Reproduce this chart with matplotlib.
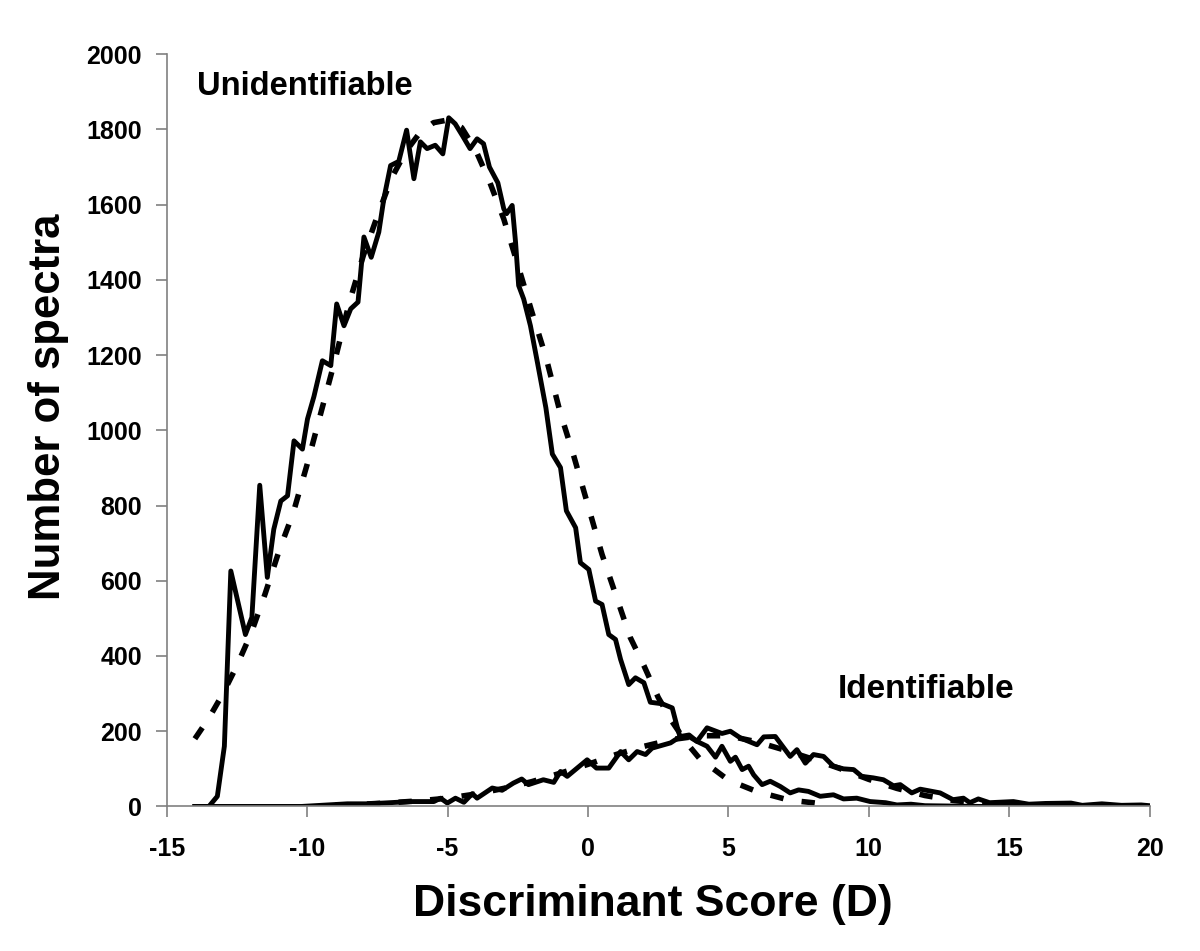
import matplotlib
matplotlib.use('Agg')
import matplotlib.pyplot as plt

plt.rcParams['font.family'] = ['Liberation Sans', 'DejaVu Sans']
plt.rcParams['font.weight'] = 'bold'
plt.rcParams['axes.unicode_minus'] = False

unid_x = [-14.0, -13.5, -13.2, -12.95, -12.72, -12.2, -11.97, -11.69, -11.42, -11.19,
          -10.94, -10.7, -10.47, -10.17, -9.99, -9.76, -9.46, -9.16, -8.95, -8.69,
          -8.45, -8.19, -7.98, -7.72, -7.45, -7.27, -7.03, -6.74, -6.46, -6.2,
          -5.97, -5.73, -5.44, -5.17, -4.96, -4.73, -4.46, -4.2, -3.95, -3.72,
          -3.51, -3.21, -3.0, -2.9, -2.7, -2.58, -2.47, -2.29, -2.05, -1.8,
          -1.5, -1.27, -0.98, -0.77, -0.44, -0.27, 0.03, 0.27, 0.5, 0.74,
          0.98, 1.16, 1.45, 1.69, 1.99, 2.22, 2.64, 3.0, 3.17, 3.29,
          3.59, 3.88, 4.24, 4.54, 4.77, 5.07, 5.25, 5.49, 5.72, 5.9,
          6.2, 6.49, 6.85, 7.2, 7.5, 7.85, 8.27, 8.74, 9.1, 9.57,
          10.05, 10.6, 11.0, 11.5, 12.0, 13.0, 14.0, 20.0]
unid_y = [0, 0, 27, 160, 626, 457, 503, 854, 609, 737,
          812, 826, 972, 950, 1030, 1090, 1185, 1172, 1336, 1278,
          1323, 1341, 1514, 1460, 1527, 1616, 1704, 1715, 1798, 1669,
          1767, 1749, 1758, 1735, 1831, 1815, 1782, 1749, 1775, 1762,
          1700, 1658, 1589, 1576, 1598, 1500, 1385, 1349, 1278, 1180,
          1060, 937, 901, 786, 741, 648, 630, 546, 537, 457,
          444, 391, 324, 342, 329, 277, 273, 262, 213, 182,
          186, 173, 160, 131, 160, 120, 131, 98, 107, 84,
          58, 67, 53, 36, 44, 40, 27, 31, 20, 22,
          13, 10, 4, 6, 2, 1, 0, 0]

# Unidentifiable spectra, fitted curve
unid_fit_x = [-14.0, -13.5, -13.0, -12.5, -12.0, -11.5, -11.0, -10.5, -10.0, -9.5,
              -9.0, -8.5, -8.0, -7.5, -7.0, -6.5, -6.0, -5.5, -5.0, -4.5,
              -4.0, -3.5, -3.0, -2.5, -2.0, -1.5, -1.0, -0.5, 0.0, 0.5,
              1.0, 1.5, 2.0, 2.5, 3.0, 3.5, 4.0, 4.5, 5.0, 5.5,
              6.0, 6.5, 7.0, 7.5, 8.0, 8.5]
unid_fit_y = [180, 235, 300, 375, 460, 565, 680, 780, 910, 1050,
              1190, 1340, 1465, 1570, 1670, 1740, 1790, 1818, 1825, 1805,
              1745, 1660, 1562, 1440, 1315, 1195, 1050, 930, 800, 670,
              560, 450, 373, 290, 225, 170, 125, 98, 70, 55,
              40, 30, 20, 14, 10, 5]

# Identifiable spectra, observed counts
ident_x = [-14.0, -10.2, -8.57, -7.86, -7.3, -6.32, -5.49, -5.25, -5.01, -4.72,
           -4.42, -4.12, -3.95, -3.41, -3.06, -2.66, -2.36, -2.12, -1.59, -1.22,
           -0.98, -0.74, -0.03, 0.3, 0.74, 1.16, 1.45, 1.75, 2.05, 2.28,
           2.94, 3.29, 3.6, 3.88, 4.24, 4.77, 5.07, 5.43, 6.02, 6.26,
           6.67, 7.2, 7.44, 7.74, 8.03, 8.39, 8.74, 9.1, 9.46, 9.75,
           10.16, 10.52, 10.88, 11.12, 11.53, 11.83, 12.54, 13.0, 13.37, 13.6,
           13.9, 14.3, 15.15, 15.7, 16.3, 17.2, 17.6, 18.3, 19.0, 19.7, 20.0]
ident_y = [0, 0, 7, 7, 9, 13, 13, 22, 9, 22,
           11, 34, 22, 49, 43, 62, 73, 58, 71, 64,
           93, 80, 124, 102, 102, 146, 124, 146, 138, 155,
           169, 186, 190, 173, 209, 194, 200, 182, 164, 185,
           186, 133, 151, 115, 138, 133, 107, 100, 98, 80,
           76, 71, 55, 58, 36, 46, 36, 18, 22, 10,
           20, 10, 13, 6, 8, 9, 3, 7, 3, 4, 2]

# Identifiable spectra, fitted curve
ident_fit_x = [-9, -8, -7, -6, -5, -4, -3, -2, -1, 0,
               1, 2, 3, 4, 5, 6, 7, 8, 9, 10,
               11, 12, 13, 14, 15, 16, 17]
ident_fit_y = [3, 6, 10, 15, 22, 33, 48, 66, 88, 112,
               138, 160, 178, 188, 188, 172, 150, 126, 100, 72,
               48, 29, 16, 8, 4, 2, 1]

fig = plt.figure(figsize=(12, 9.51), dpi=100)
ax = fig.add_axes([0.139, 0.152, 0.819, 0.791])

dash = (0, (2.4, 3.3))
ax.plot(unid_fit_x, unid_fit_y, color='black', lw=4, linestyle=dash, dash_capstyle='butt')
ax.plot(ident_fit_x, ident_fit_y, color='black', lw=4, linestyle=dash, dash_capstyle='butt')
ax.plot(unid_x, unid_y, color='black', lw=3.5)
ax.plot(ident_x, ident_y, color='black', lw=3.5)

ax.set_xlim(-15, 20)
ax.set_ylim(0, 2000)
ax.set_xticks(range(-15, 21, 5))
ax.set_yticks(range(0, 2001, 200))

for side in ['top', 'right']:
    ax.spines[side].set_visible(False)
for side in ['left', 'bottom']:
    ax.spines[side].set_color('#808080')
    ax.spines[side].set_linewidth(1.2)
ax.tick_params(axis='both', direction='out', length=8, width=1.2, color='#808080',
               labelsize=18)
ax.tick_params(axis='y', pad=10)
ax.tick_params(axis='x', pad=14)
for lab in ax.get_xticklabels() + ax.get_yticklabels():
    lab.set_fontweight('bold')

ax.set_xlabel('Discriminant Score (D)', fontsize=32, fontweight='bold', va='top')
ax.xaxis.set_label_coords(0.495, -0.103)
ax.set_ylabel('Number of spectra', fontsize=31.5, fontweight='bold')
ax.yaxis.set_label_coords(-0.100, 0.531)

ax.text(-13.92, 1915, 'Unidentifiable', fontsize=23.5, fontweight='bold', va='center', ha='left')
ax.text(8.9, 310, 'Identifiable', fontsize=24, fontweight='bold', va='center', ha='left')

fig.savefig('out.png', dpi=100)
